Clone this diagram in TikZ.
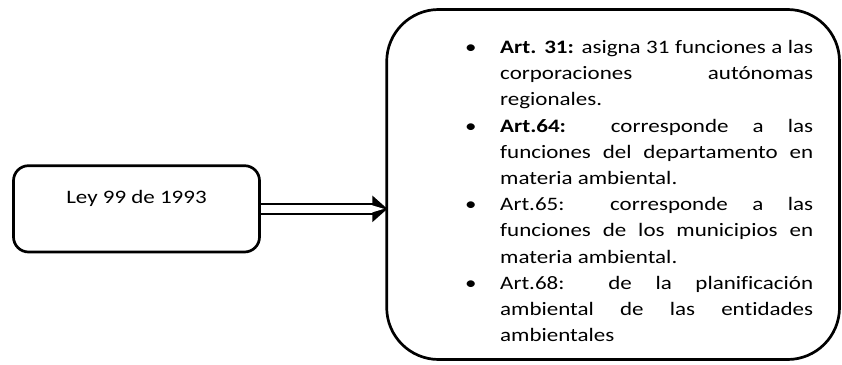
\documentclass[tikz,border=0pt]{standalone}
\usepackage{fontspec}
\setmainfont{Carlito}[FakeStretch=1.21, Ligatures=NoCommon, RawFeature={-clig}]
\usetikzlibrary{calc}
\newcommand{\bulletitem}{\leavevmode\llap{\makebox[35pt][l]{•}}}
\begin{document}
\begin{tikzpicture}[x=1pt,y=-1pt,
  leybox/.style={draw, line width=2.7pt, rounded corners=15pt, minimum width=246pt,
    inner sep=0pt, text height=38pt, text depth=48.3pt, font=\fontsize{19}{23}\selectfont},
  artbox/.style={draw, line width=2.7pt, rounded corners=52pt, minimum width=452.8pt,
    minimum height=350pt, inner sep=0pt},
  listtext/.style={anchor=north west, inner sep=0pt, text width=313pt, align=justify,
    font=\fontsize{19}{26.2}\selectfont},
  dbl/.style={draw, double, line width=2.7pt, double distance=7.3pt}]
\useasboundingbox (0,0) rectangle (842,364);
\node[leybox] (ley) at (136.5,208.85) {Ley 99 de 1993};
\node[artbox] (arts) at (613.1,184.5) {};
\node[listtext] (list) at (500,33.3) {\setlength{\parindent}{0pt}\setlength{\parskip}{0pt}%
\bulletitem\rule{0pt}{20pt}\textbf{Art. 31:} asigna 31 funciones a las\linebreak corporaciones autónomas\linebreak regionales.\par
\bulletitem\textbf{Art.64:} corresponde a las\linebreak funciones del departamento en\linebreak materia ambiental.\par
\bulletitem Art.65: corresponde a las\linebreak funciones de los municipios en\linebreak materia ambiental.\par
\bulletitem Art.68: de la planificación\linebreak ambiental de las entidades\linebreak ambientales\par};
\coordinate (tip) at (ley.east -| arts.west);
\draw[dbl] (ley.east) -- ($(tip)+(-12,0)$);
\fill ($(tip)+(-13,-13.3)$) -- ($(tip)+(2,0)$) -- ($(tip)+(-13,13.3)$) -- cycle;
\fill[white] ($(tip)+(-13.5,-3.6)$) -- ($(tip)+(-1.5,0)$) -- ($(tip)+(-13.5,3.6)$) -- cycle;
\end{tikzpicture}
\end{document}
